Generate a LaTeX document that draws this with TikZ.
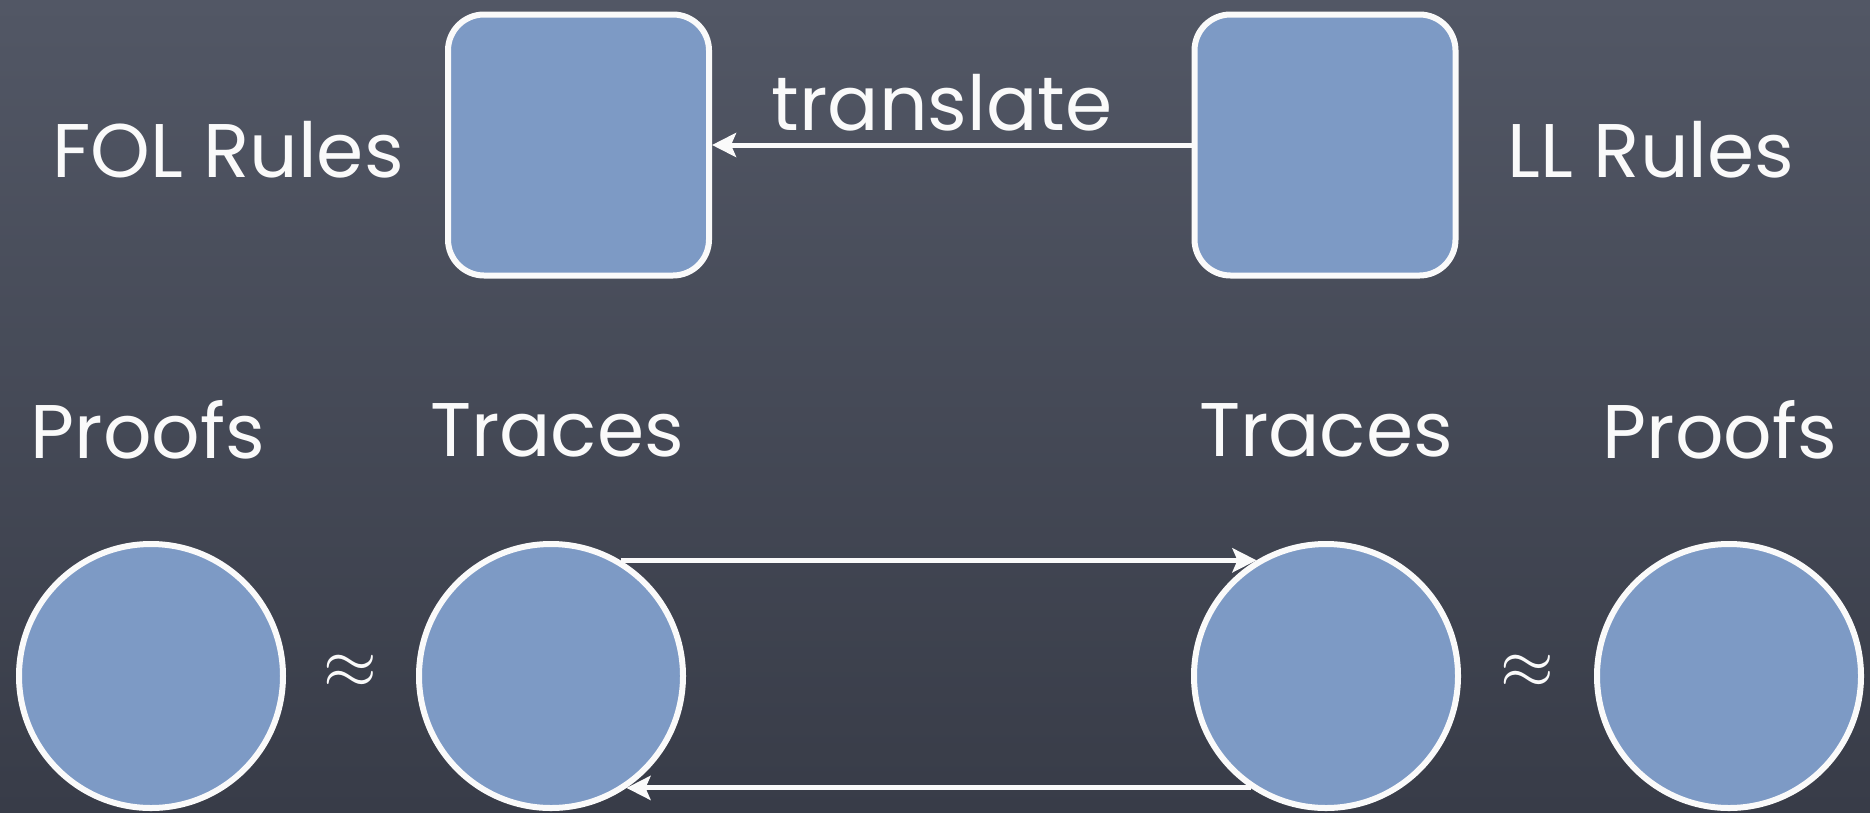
\documentclass[tikz,border=0pt]{standalone}
\usepackage{fontspec}
\usepackage{graphicx}
\setmainfont{Poppins}
\usetikzlibrary{arrows.meta}
\definecolor{boardtop}{RGB}{82,87,101}
\definecolor{boardbot}{RGB}{56,60,72}
\definecolor{fillblue}{RGB}{125,154,197}
\definecolor{chalk}{RGB}{250,250,250}
\tikzset{
  rulebox/.style={draw=chalk, line width=6pt, fill=fillblue, rounded corners=36pt,
    minimum width=261pt, minimum height=261pt, inner sep=0pt},
  setcirc/.style={draw=chalk, line width=6pt, fill=fillblue, circle,
    minimum size=264pt, inner sep=0pt},
  lbl/.style={text=chalk, inner sep=0pt, font=\fontsize{76}{84}\selectfont},
  approx/.style={text=chalk, inner sep=0pt},
  arr/.style={draw=chalk, line width=5pt, -{Stealth[length=24pt, width=24pt, inset=5pt]}}
}
\begin{document}
\begin{tikzpicture}[x=1pt, y=-1pt]
\shade[top color=boardtop, bottom color=boardbot] (0,0) rectangle (1870,812);
\useasboundingbox (0,0) rectangle (1870,812);

\node[rulebox] (fol) at (578.5,145) {};
\node[rulebox] (ll) at (1325,145) {};
\node[lbl] (folt) at (228,150) {FOL Rules};
\node[lbl] (llt) at (1651,150) {LL Rules};
\node[lbl] (tr) at (942,103) {translate};
\draw[arr] (ll.west) -- (fol.east);

\node[lbl] (p1) at (148,430) {Proofs};
\node[lbl] (t1) at (557,430) {Traces};
\node[lbl] (t2) at (1326,430) {Traces};
\node[lbl] (p2) at (1720,430) {Proofs};

\node[setcirc] (c1) at (151,676) {};
\node[setcirc] (c2) at (551,676) {};
\node[setcirc] (c3) at (1326,676) {};
\node[setcirc] (c4) at (1729,676) {};
\node[approx] (a1) at (350,672) {\scalebox{6.9}{$\approx$}};
\node[approx] (a2) at (1527,672) {\scalebox{6.9}{$\approx$}};

\draw[arr] (c2.59) -- (c3.121);
\draw[arr] (c3.-124) -- (c2.-56);
\end{tikzpicture}
\end{document}
